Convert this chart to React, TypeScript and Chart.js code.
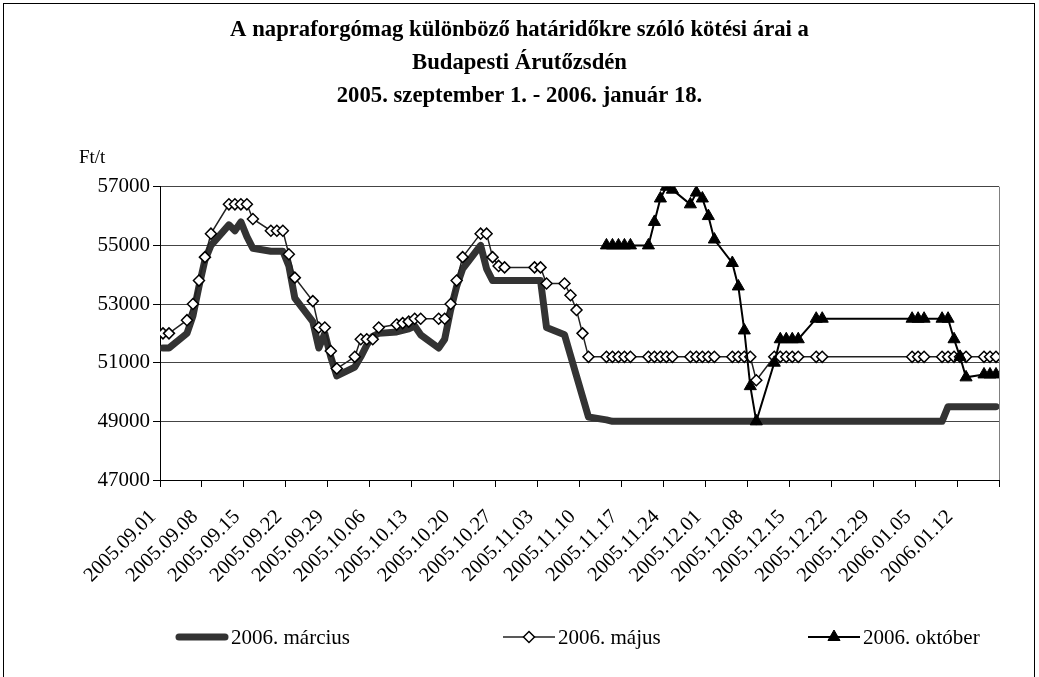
import React, { useEffect, useRef } from 'react';
import { Chart, registerables } from 'chart.js';

Chart.register(...registerables);

const TITLE_LINES = [
  'A napraforgómag különböző határidőkre szóló kötési árai a',
  'Budapesti Árutőzsdén',
  '2005. szeptember 1. - 2006. január 18.',
];
const UNIT_LABEL = 'Ft/t';
const SERIES_NAMES = ['2006. március', '2006. május', '2006. október'];

const AXIS_START = '2005.09.01';
const AXIS_END = '2006.01.18';

const tickLabels = [
  '2005.09.01', '2005.09.08', '2005.09.15', '2005.09.22', '2005.09.29',
  '2005.10.06', '2005.10.13', '2005.10.20', '2005.10.27', '2005.11.03',
  '2005.11.10', '2005.11.17', '2005.11.24', '2005.12.01', '2005.12.08',
  '2005.12.15', '2005.12.22', '2005.12.29', '2006.01.05', '2006.01.12',
];

const yTicks = [47000, 49000, 51000, 53000, 55000, 57000];

const dates = [
  '2005.09.01', '2005.09.02', '2005.09.05', '2005.09.06', '2005.09.07', '2005.09.08', '2005.09.09',
  '2005.09.12', '2005.09.13', '2005.09.14', '2005.09.15', '2005.09.16',
  '2005.09.19', '2005.09.20', '2005.09.21', '2005.09.22', '2005.09.23',
  '2005.09.26', '2005.09.27', '2005.09.28', '2005.09.29', '2005.09.30',
  '2005.10.03', '2005.10.04', '2005.10.05', '2005.10.06', '2005.10.07',
  '2005.10.10', '2005.10.11', '2005.10.12', '2005.10.13', '2005.10.14',
  '2005.10.17', '2005.10.18', '2005.10.19', '2005.10.20', '2005.10.21',
  '2005.10.24', '2005.10.25', '2005.10.26', '2005.10.27', '2005.10.28',
  '2005.11.02', '2005.11.03', '2005.11.04',
  '2005.11.07', '2005.11.08', '2005.11.09', '2005.11.10', '2005.11.11',
  '2005.11.14', '2005.11.15', '2005.11.16', '2005.11.17', '2005.11.18',
  '2005.11.21', '2005.11.22', '2005.11.23', '2005.11.24', '2005.11.25',
  '2005.11.28', '2005.11.29', '2005.11.30', '2005.12.01', '2005.12.02',
  '2005.12.05', '2005.12.06', '2005.12.07', '2005.12.08', '2005.12.09',
  '2005.12.12', '2005.12.13', '2005.12.14', '2005.12.15', '2005.12.16',
  '2005.12.19', '2005.12.20',
  '2006.01.04', '2006.01.05', '2006.01.06',
  '2006.01.09', '2006.01.10', '2006.01.11', '2006.01.12', '2006.01.13',
  '2006.01.16', '2006.01.17', '2006.01.18',
];

const marcius = [
  51500, 51500, 52000, 52600, 53600, 54500, 55000,
  55700, 55500, 55800, 55300, 54900,
  54800, 54800, 54800, 54300, 53200,
  52400, 51500, 52000, 51200, 50550,
  50850, 51200, 51600, 51900, 52000,
  52050, 52100, 52150, 52250, 51950,
  51500, 51800, 52800, 53600, 54200,
  55000, 54200, 53800, 53800, 53800,
  53800, 53800, 52200,
  51950, 51250, 50550, 49850, 49150,
  49050, 49000, 49000, 49000, 49000,
  49000, 49000, 49000, 49000, 49000,
  49000, 49000, 49000, 49000, 49000,
  49000, 49000, 49000, 49000, 49000,
  49000, 49000, 49000, 49000, 49000,
  49000, 49000,
  49000, 49000, 49000,
  49000, 49500, 49500, 49500, 49500,
  49500, 49500, 49500,
];

const majus = [
  52000, 52000, 52450, 53000, 53800, 54600, 55400,
  56400, 56400, 56400, 56400, 55900,
  55500, 55500, 55500, 54700, 53900,
  53100, 52200, 52200, 51400, 50800,
  51200, 51800, 51800, 51800, 52200,
  52300, 52350, 52400, 52500, 52500,
  52500, 52500, 53000, 53800, 54600,
  55400, 55400, 54600, 54300, 54250,
  54250, 54250, 53700,
  53700, 53300, 52800, 52000, 51200,
  51200, 51200, 51200, 51200, 51200,
  51200, 51200, 51200, 51200, 51200,
  51200, 51200, 51200, 51200, 51200,
  51200, 51200, 51200, 51200, 50400,
  51200, 51200, 51200, 51200, 51200,
  51200, 51200,
  51200, 51200, 51200,
  51200, 51200, 51200, 51200, 51200,
  51200, 51200, 51200,
];

const oktober = [
  null, null, null, null, null, null, null,
  null, null, null, null, null,
  null, null, null, null, null,
  null, null, null, null, null,
  null, null, null, null, null,
  null, null, null, null, null,
  null, null, null, null, null,
  null, null, null, null, null,
  null, null, null,
  null, null, null, null, null,
  55000, 55000, 55000, 55000, 55000,
  55000, 55800, 56600, 57000, 56900,
  56400, 56800, 56600, 56000, 55200,
  54400, 53600, 52100, 50200, 49000,
  51000, 51800, 51800, 51800, 51800,
  52500, 52500,
  52500, 52500, 52500,
  52500, 52500, 51800, 51200, 50500,
  50600, 50600, 50600,
];

const SERIF = "'Liberation Serif', 'Times New Roman', serif";

function dayIndex(s: string): number {
  const [y, m, d] = s.split('.').map(Number);
  const [y0, m0, d0] = AXIS_START.split('.').map(Number);
  return Math.round((Date.UTC(y, m - 1, d) - Date.UTC(y0, m0 - 1, d0)) / 86400000);
}

function toPoints(values: (number | null)[]) {
  const pts: { x: number; y: number }[] = [];
  values.forEach((v, i) => {
    if (v !== null && v !== undefined) pts.push({ x: dayIndex(dates[i]), y: v });
  });
  return pts;
}

export default function App() {
  const canvasRef = useRef<HTMLCanvasElement | null>(null);

  useEffect(() => {
    const canvas = canvasRef.current;
    if (!canvas) return;

    const xMin = -0.5;
    const xMax = dayIndex(AXIS_END) + 0.5;
    const xTickValues = [...tickLabels.map((l) => dayIndex(l) - 0.5), xMax];

    const decor = {
      id: 'decor',
      beforeDatasetsDraw(chart: any) {
        const { ctx, chartArea } = chart;
        ctx.save();
        ctx.strokeStyle = '#808080';
        ctx.lineWidth = 1;
        ctx.beginPath();
        const rx = Math.round(chartArea.right) + 0.5;
        ctx.moveTo(rx, chartArea.top);
        ctx.lineTo(rx, chartArea.bottom);
        ctx.stroke();
        ctx.restore();
      },
      afterDraw(chart: any) {
        const { ctx } = chart;
        ctx.save();
        // outer frame
        ctx.strokeStyle = '#000';
        ctx.lineWidth = 1;
        ctx.strokeRect(3.5, 3.5, 1031, 700);
        // unit label
        ctx.fillStyle = '#000';
        ctx.font = `19px ${SERIF}`;
        ctx.textBaseline = 'middle';
        ctx.textAlign = 'left';
        ctx.fillText(UNIT_LABEL, 79, 158);

        // legend
        const ly = 637;
        const items = [176, 503, 808];
        chart.data.datasets.forEach((ds: any, i: number) => {
          const x0 = items[i];
          const x1 = x0 + 52;
          const cx = (x0 + x1) / 2;
          ctx.save();
          ctx.strokeStyle = ds.borderColor;
          ctx.lineWidth = ds.borderWidth;
          ctx.lineCap = i === 0 ? 'round' : 'butt';
          ctx.beginPath();
          ctx.moveTo(x0 + (i === 0 ? 3 : 0), ly);
          ctx.lineTo(x1 - (i === 0 ? 3 : 0), ly);
          ctx.stroke();
          if (ds.pointRadius > 0) {
            const r = ds.pointRadius;
            ctx.fillStyle = ds.pointBackgroundColor;
            ctx.strokeStyle = ds.pointBorderColor;
            ctx.lineWidth = ds.pointBorderWidth;
            ctx.beginPath();
            if (ds.pointStyle === 'rectRot') {
              ctx.moveTo(cx, ly - r);
              ctx.lineTo(cx + r, ly);
              ctx.lineTo(cx, ly + r);
              ctx.lineTo(cx - r, ly);
            } else {
              ctx.moveTo(cx, ly - r);
              ctx.lineTo(cx + r * 0.866, ly + r * 0.5);
              ctx.lineTo(cx - r * 0.866, ly + r * 0.5);
            }
            ctx.closePath();
            ctx.fill();
            ctx.stroke();
          }
          ctx.restore();
          ctx.fillStyle = '#000';
          ctx.font = `21px ${SERIF}`;
          ctx.textAlign = 'left';
          ctx.textBaseline = 'middle';
          ctx.fillText(ds.label, x1 + 3, ly + 1);
        });
        ctx.restore();
      },
    };

    const chart = new Chart(canvas, {
      type: 'line',
      data: {
        datasets: [
          {
            label: SERIES_NAMES[0],
            data: toPoints(marcius),
            borderColor: '#333333',
            backgroundColor: '#333333',
            borderWidth: 7,
            pointRadius: 0,
            pointHoverRadius: 0,
            tension: 0,
            order: 3,
            borderJoinStyle: 'round',
            borderCapStyle: 'round',
          },
          {
            label: SERIES_NAMES[1],
            data: toPoints(majus),
            borderColor: '#222222',
            borderWidth: 1.5,
            pointStyle: 'rectRot',
            pointRadius: 5.5,
            pointBackgroundColor: '#ffffff',
            pointBorderColor: '#000000',
            pointBorderWidth: 1.5,
            tension: 0,
            order: 2,
          },
          {
            label: SERIES_NAMES[2],
            data: toPoints(oktober),
            borderColor: '#000000',
            borderWidth: 2,
            pointStyle: 'triangle',
            pointRadius: 7,
            pointBackgroundColor: '#000000',
            pointBorderColor: '#000000',
            pointBorderWidth: 1,
            tension: 0,
            order: 1,
          },
        ] as any,
      },
      options: {
        responsive: false,
        animation: false,
        events: [],
        layout: { padding: 0 },
        plugins: {
          legend: { display: false },
          tooltip: { enabled: false },
          title: {
            display: true,
            text: TITLE_LINES,
            color: '#000',
            font: { family: SERIF, size: 22.7, weight: 'bold', lineHeight: 1.45 },
            padding: { top: 14, bottom: 74 },
          },
        },
        scales: {
          x: {
            type: 'linear',
            min: xMin,
            max: xMax,
            afterBuildTicks: (axis: any) => {
              axis.ticks = xTickValues.map((v) => ({ value: v }));
            },
            afterFit: (axis: any) => {
              axis.height = 197;
            },
            grid: {
              drawOnChartArea: false,
              drawTicks: true,
              tickLength: 7,
              tickColor: '#000',
            },
            border: { color: '#000', width: 1 },
            ticks: {
              autoSkip: false,
              minRotation: 45,
              maxRotation: 45,
              padding: 18,
              labelOffset: -7,
              color: '#000',
              font: { family: SERIF, size: 20.5 },
              callback: (_v: any, i: number) => tickLabels[i] ?? '',
            },
          },
          y: {
            type: 'linear',
            position: 'left',
            min: yTicks[0],
            max: yTicks[yTicks.length - 1],
            afterBuildTicks: (axis: any) => {
              axis.ticks = yTicks.map((v) => ({ value: v }));
            },
            afterFit: (axis: any) => {
              axis.width = 160;
            },
            grid: {
              color: '#444',
              lineWidth: 1,
              tickLength: 7,
              tickColor: '#000',
            },
            border: { color: '#000', width: 1 },
            ticks: {
              color: '#000',
              padding: 3,
              font: { family: SERIF, size: 21 },
              callback: (v: any) => String(v),
            },
          },
          ySpacer: {
            type: 'linear',
            position: 'right',
            display: true,
            afterFit: (axis: any) => {
              axis.width = 40;
            },
            grid: { display: false, drawOnChartArea: false },
            border: { display: false },
            ticks: { display: false },
          },
        },
      } as any,
      plugins: [decor],
    });

    return () => chart.destroy();
  }, []);

  return (
    <div style={{ position: 'fixed', left: 0, top: 0, width: 1039, height: 677, background: '#fff' }}>
      <canvas ref={canvasRef} width={1039} height={677} />
    </div>
  );
}
